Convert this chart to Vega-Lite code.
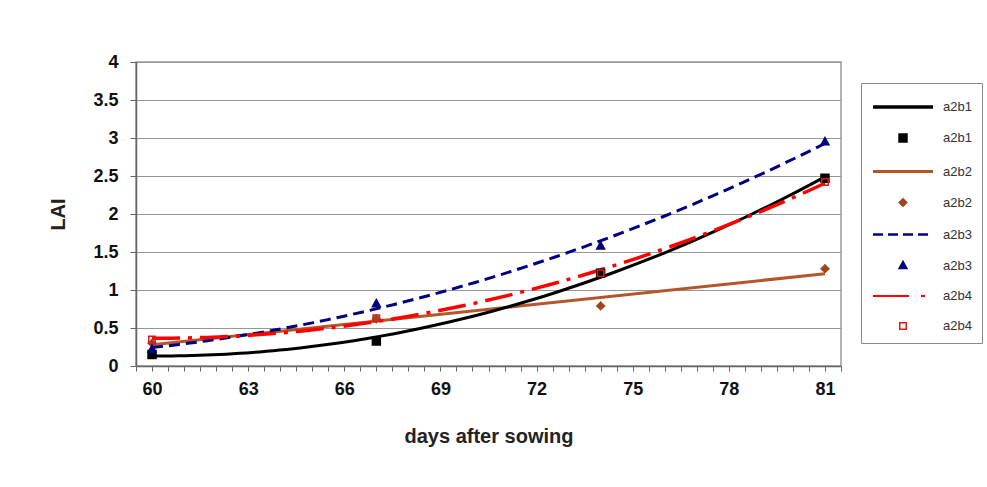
{
  "$schema": "https://vega.github.io/schema/vega-lite/v6.json",
  "width": 705,
  "height": 304,
  "autosize": {"type": "none"},
  "padding": {"left": 136, "top": 62, "right": 146, "bottom": 121},
  "background": "white",
  "config": {
    "view": {"stroke": "#9a9a9a", "strokeWidth": 1.5},
    "font": "Liberation Sans"
  },
  "data": {
    "values": [
      {"series": "a2b1", "day": 60, "lai": 0.15, "key": "1P"},
      {"series": "a2b1", "day": 67, "lai": 0.33, "key": "1P"},
      {"series": "a2b1", "day": 74, "lai": 1.22, "key": "1P"},
      {"series": "a2b1", "day": 81, "lai": 2.47, "key": "1P"},
      {"series": "a2b2", "day": 60, "lai": 0.30, "key": "2P"},
      {"series": "a2b2", "day": 67, "lai": 0.62, "key": "2P"},
      {"series": "a2b2", "day": 74, "lai": 0.79, "key": "2P"},
      {"series": "a2b2", "day": 81, "lai": 1.28, "key": "2P"},
      {"series": "a2b3", "day": 60, "lai": 0.22, "key": "3P"},
      {"series": "a2b3", "day": 67, "lai": 0.82, "key": "3P"},
      {"series": "a2b3", "day": 74, "lai": 1.58, "key": "3P"},
      {"series": "a2b3", "day": 81, "lai": 2.95, "key": "3P"},
      {"series": "a2b4", "day": 60, "lai": 0.35, "key": "4P"},
      {"series": "a2b4", "day": 67, "lai": 0.63, "key": "4P"},
      {"series": "a2b4", "day": 74, "lai": 1.22, "key": "4P"},
      {"series": "a2b4", "day": 81, "lai": 2.42, "key": "4P"}
    ]
  },
  "encoding": {
    "x": {
      "field": "day",
      "type": "quantitative",
      "scale": {"domain": [59.5, 81.5], "nice": false, "zero": false},
      "axis": {
        "title": "days after sowing",
        "values": [59.5, 60, 60.5, 61, 61.5, 62, 62.5, 63, 63.5, 64, 64.5, 65, 65.5, 66, 66.5, 67, 67.5, 68, 68.5, 69, 69.5, 70, 70.5, 71, 71.5, 72, 72.5, 73, 73.5, 74, 74.5, 75, 75.5, 76, 76.5, 77, 77.5, 78, 78.5, 79, 79.5, 80, 80.5, 81, 81.5],
        "labelExpr": "datum.value % 3 == 0 ? format(datum.value, 'd') : ''",
        "labelOverlap": false,
        "labelBound": false,
        "labelFlush": false,
        "labelFontSize": 18,
        "labelFontWeight": "bold",
        "labelColor": "#111111",
        "labelPadding": 9,
        "tickSize": 5,
        "tickColor": "#666666",
        "domainColor": "#666666",
        "domainWidth": 1.5,
        "grid": false,
        "titleFontSize": 20,
        "titleFontWeight": "bold",
        "titleColor": "#222222",
        "titlePadding": 28,
        "encode": {"ticks": {"update": {"opacity": {"signal": "datum.value % 1 == 0 ? 0 : 1"}}}}
      }
    },
    "y": {
      "field": "lai",
      "type": "quantitative",
      "scale": {"domain": [0, 4], "nice": false},
      "axis": {
        "title": "LAI",
        "values": [0, 0.5, 1, 1.5, 2, 2.5, 3, 3.5, 4],
        "format": "~g",
        "labelFontSize": 18,
        "labelFontWeight": "bold",
        "labelColor": "#111111",
        "labelPadding": 12,
        "tickSize": 6,
        "tickColor": "#666666",
        "domainColor": "#666666",
        "domainWidth": 1.5,
        "gridColor": "#969696",
        "gridWidth": 1.2,
        "titleFontSize": 20,
        "titleFontWeight": "bold",
        "titleColor": "#222222",
        "titlePadding": 24
      }
    }
  },
  "layer": [
    {
      "transform": [
        {"filter": "datum.series == 'a2b2'"},
        {"regression": "lai", "on": "day", "method": "linear"}
      ],
      "mark": {"type": "line", "color": "#B5562A", "strokeWidth": 3}
    },
    {
      "transform": [
        {"filter": "datum.series == 'a2b1'"},
        {"regression": "lai", "on": "day", "method": "poly", "order": 2}
      ],
      "mark": {"type": "line", "color": "#000000", "strokeWidth": 3}
    },
    {
      "transform": [
        {"filter": "datum.series == 'a2b3'"},
        {"regression": "lai", "on": "day", "method": "poly", "order": 2}
      ],
      "mark": {"type": "line", "color": "#000080", "strokeWidth": 3, "strokeDash": [11, 6]}
    },
    {
      "transform": [
        {"filter": "datum.series == 'a2b4'"},
        {"regression": "lai", "on": "day", "method": "poly", "order": 2}
      ],
      "mark": {"type": "line", "color": "#FF0000", "strokeWidth": 3.5, "strokeDash": [28, 8, 4, 8]}
    },
    {
      "mark": {"type": "point", "opacity": 1, "size": 576},
      "encoding": {
        "shape": {
          "field": "key", "type": "nominal",
          "scale": {"domain": ["1L", "1P", "2L", "2P", "3L", "3P", "4L", "4P"], "range": ["M-2.5,0H2.5", "M-0.26,-0.26H0.26V0.26H-0.26Z", "M-2.5,0H2.5", "M0,-0.25L0.25,0L0,0.25L-0.25,0Z", "M-2.5,0H2.5", "M0,-0.3L0.29,0.23H-0.29Z", "M-2.5,0H2.5", "M-0.27,-0.27H0.27V0.27H-0.27Z"]}
        },
        "fill": {
          "field": "key", "type": "nominal",
          "scale": {"domain": ["1L", "1P", "2L", "2P", "3L", "3P", "4L", "4P"], "range": ["transparent", "#000000", "transparent", "#A0461E", "transparent", "#000080", "transparent", "transparent"]}
        },
        "strokeWidth": {
          "field": "key", "type": "ordinal",
          "scale": {"domain": ["1L", "1P", "2L", "2P", "3L", "3P", "4L", "4P"], "range": [3.5, 1.5, 3.5, 1.5, 3.5, 1.5, 3.5, 1.5]}
        },
        "strokeDash": {
          "field": "key", "type": "nominal",
          "scale": {"domain": ["1L", "1P", "2L", "2P", "3L", "3P", "4L", "4P"], "range": [[1, 0], [1, 0], [1, 0], [1, 0], [10, 5], [1, 0], [36, 12, 4, 40], [1, 0]]}
        },
        "stroke": {
          "field": "key", "type": "nominal",
          "scale": {"domain": ["1L", "1P", "2L", "2P", "3L", "3P", "4L", "4P"], "range": ["#000000", "#000000", "#B5562A", "#A0461E", "#000080", "#000080", "#FF0000", "#E01818"]},
          "legend": {
            "title": null,
            "orient": "none",
            "legendX": 725,
            "legendY": 21,
            "padding": 10,
            "strokeColor": "#8a8a8a",
            "fillColor": "white",
            "symbolSize": 576,
            "symbolOffset": 18,
            "labelOffset": 26,
            "rowPadding": 10,
            "symbolOpacity": 1,
            "labelFont": "Liberation Sans",
            "labelFontSize": 13,
            "labelColor": "#333333",
            "labelExpr": "'a2b' + substring(datum.label, 0, 1)"
          }
        }
      }
    }
  ]
}
